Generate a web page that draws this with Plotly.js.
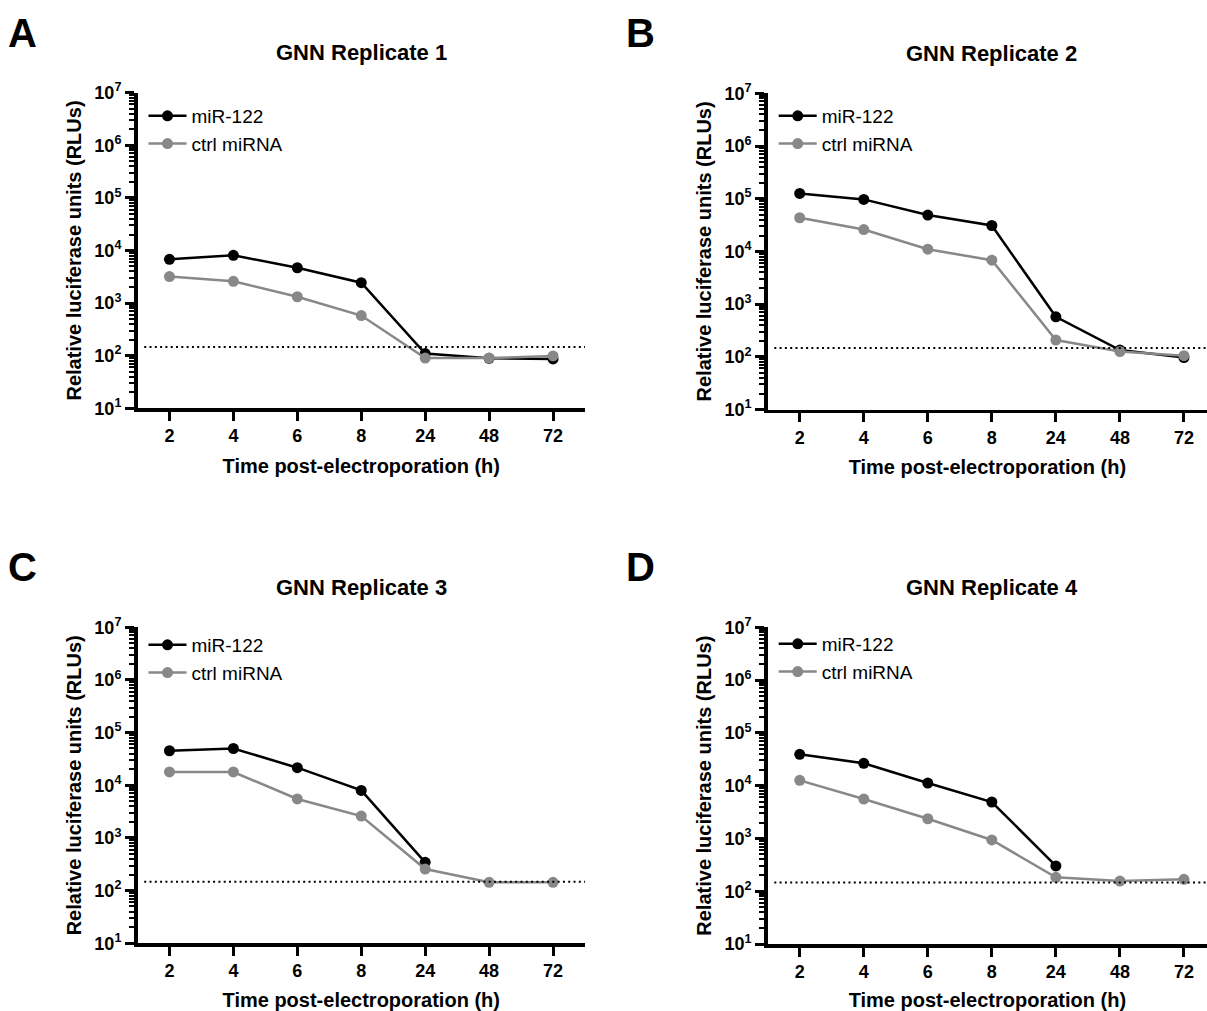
<!DOCTYPE html>
<html>
<head>
<meta charset="utf-8">
<script src="https://cdn.plot.ly/plotly-3.0.1.min.js"></script>
<style>
html,body{margin:0;padding:0;background:#ffffff;}
#chart{width:1207px;height:1011px;}
</style>
</head>
<body>
<div id="chart"></div>
<script>
// ---------- data ----------
const hours = ['2', '4', '6', '8', '24', '48', '72'];
const seriesNames = ['miR-122', 'ctrl miRNA'];

const rep1_mir122 = [6800, 8100, 4700, 2440, 110, 89, 87];
const rep1_ctrl   = [3200, 2600, 1320, 580, 90, 90, 99];

const rep2_mir122 = [126000, 97000, 49000, 31000, 575, 134, 97];
const rep2_ctrl   = [43500, 26000, 11000, 6800, 208, 126, 105];

const rep3_mir122 = [45300, 50000, 21600, 8000, 344, null, null];
const rep3_ctrl   = [17900, 17900, 5500, 2610, 257, 144, 144];

const rep4_mir122 = [39300, 26500, 11200, 4900, 302, null, null];
const rep4_ctrl   = [12600, 5570, 2360, 935, 183, 156, 168];

const detectionLimit = 147;

const panelTitles  = ['GNN Replicate 1', 'GNN Replicate 2', 'GNN Replicate 3', 'GNN Replicate 4'];
const panelLetters = ['A', 'B', 'C', 'D'];
const yTickVals = [1e1, 1e2, 1e3, 1e4, 1e5, 1e6, 1e7];
const yTickText = ['10<sup>1</sup>', '10<sup>2</sup>', '10<sup>3</sup>', '10<sup>4</sup>', '10<sup>5</sup>', '10<sup>6</sup>', '10<sup>7</sup>'];
const xTitle = 'Time post-electroporation (h)';
const yTitle = 'Relative luciferase units (RLUs)';

// ---------- styling / geometry ----------
const W = 1207, H = 1011;
const FONT = 'Liberation Sans, Arial, Helvetica, sans-serif';
const BLACK = '#000000', GREY = '#888888';

const minorVals = [];
for (let d = 1; d < 7; d++) for (let m = 2; m <= 9; m++) minorVals.push(m * Math.pow(10, d));

// pixel boxes of the four plot areas [left, right, top, bottom]
const boxes = [
  [137.5, 585, 92.7, 408.3],
  [767.7, 1207, 93.3, 409.5],
  [137.5, 585, 627.3, 943.3],
  [767.7, 1207, 627.3, 944.0]
];
const xRanges = [[-0.5, 6.5], [-0.5, 6.36], [-0.5, 6.5], [-0.5, 6.36]];
const legendTops = [97, 97, 626, 625];

const repData = [
  [rep1_mir122, rep1_ctrl],
  [rep2_mir122, rep2_ctrl],
  [rep3_mir122, rep3_ctrl],
  [rep4_mir122, rep4_ctrl]
];

const traces = [];
const layout = {
  width: W, height: H,
  margin: {l: 0, r: 0, t: 0, b: 0},
  paper_bgcolor: '#ffffff',
  plot_bgcolor: 'rgba(0,0,0,0)',
  font: {family: FONT, color: BLACK},
  showlegend: true,
  shapes: [],
  annotations: []
};

repData.forEach((pair, i) => {
  const n = i + 1;
  const xa = n === 1 ? 'x' : 'x' + n;
  const ya = n === 1 ? 'y' : 'y' + n;
  const lg = n === 1 ? 'legend' : 'legend' + n;
  const colors = [BLACK, GREY];
  pair.forEach((vals, s) => {
    traces.push({
      type: 'scatter', mode: 'lines+markers',
      x: hours, y: vals,
      name: seriesNames[s],
      xaxis: xa, yaxis: ya, legend: lg,
      line: {color: colors[s], width: 2.5},
      marker: {color: colors[s], size: 11},
      connectgaps: false,
      cliponaxis: false
    });
  });

  const b = boxes[i];
  const xd = [b[0] / W, Math.min(b[1] / W, 1)];
  const yd = [1 - b[3] / H, 1 - b[2] / H];

  layout['xaxis' + (n === 1 ? '' : n)] = {
    domain: xd, anchor: ya, type: 'category',
    range: xRanges[i],
    showline: true, linecolor: BLACK, linewidth: 3.5,
    ticks: 'outside', ticklen: 9, tickwidth: 3, tickcolor: BLACK,
    showgrid: false, zeroline: false,
    tickfont: {family: FONT, size: 18, weight: 'bold', color: BLACK},
    title: {text: xTitle, font: {family: FONT, size: 20, weight: 'bold', color: BLACK}, standoff: 14},
    fixedrange: true
  };
  layout['yaxis' + (n === 1 ? '' : n)] = {
    domain: yd, anchor: xa, type: 'log',
    range: [1, 7],
    tickmode: 'array', tickvals: yTickVals, ticktext: yTickText,
    showline: true, linecolor: BLACK, linewidth: 3.5,
    ticks: 'outside', ticklen: 9, tickwidth: 3, tickcolor: BLACK,
    minor: {tickmode: 'array', tickvals: minorVals, ticks: 'outside', ticklen: 5, tickwidth: 2, tickcolor: BLACK, showgrid: false},
    showgrid: false, zeroline: false,
    tickfont: {family: FONT, size: 18, weight: 'bold', color: BLACK},
    title: {text: yTitle, font: {family: FONT, size: 20, weight: 'bold', color: BLACK}, standoff: 8},
    fixedrange: true
  };

  layout[lg] = {
    x: (b[0] + 6) / W, xanchor: 'left',
    y: 1 - legendTops[i] / H, yanchor: 'top',
    bgcolor: 'rgba(0,0,0,0)', borderwidth: 0,
    itemwidth: 38,
    font: {family: FONT, size: 19, color: BLACK},
    traceorder: 'normal'
  };

  layout.shapes.push({
    type: 'line', xref: xa + ' domain', yref: ya,
    x0: 0.015, x1: 1, y0: detectionLimit, y1: detectionLimit,
    line: {color: BLACK, width: 2, dash: '2px,3.3px'}
  });

  layout.annotations.push({
    text: panelTitles[i], xref: 'paper', yref: 'paper',
    x: ((b[0] + b[1] + (i % 2 ? 9 : 0)) / 2) / W, y: 1 - (b[2] - 40) / H,
    xanchor: 'center', yanchor: 'middle', showarrow: false,
    font: {family: FONT, size: 22, weight: 'bold', color: BLACK}
  });
  layout.annotations.push({
    text: panelLetters[i], xref: 'paper', yref: 'paper',
    x: (i % 2 ? 640 : 22) / W, y: 1 - (b[2] - 60) / H,
    xanchor: 'center', yanchor: 'middle', showarrow: false,
    font: {family: FONT, size: 40, weight: 'bold', color: BLACK}
  });
});

Plotly.newPlot('chart', traces, layout, {staticPlot: true, displayModeBar: false});
</script>
</body>
</html>
